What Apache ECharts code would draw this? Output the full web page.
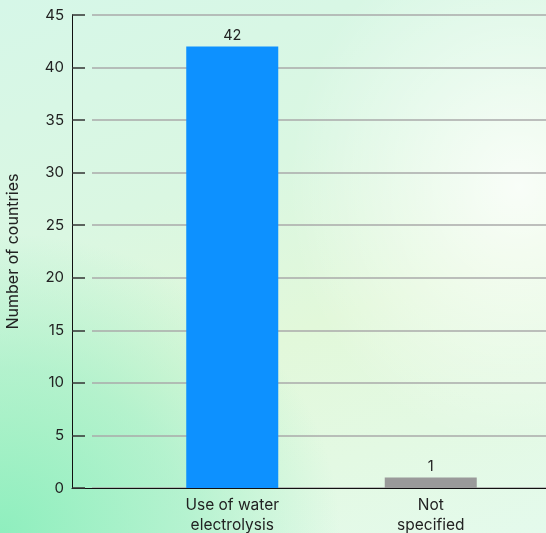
<!DOCTYPE html>
<html><head><meta charset="utf-8">
<script src="https://cdn.jsdelivr.net/npm/echarts@6/dist/echarts.min.js"></script>
<style>
html,body{margin:0;padding:0;width:546px;height:533px;overflow:hidden;}
body{background:
 radial-gradient(ellipse 340px 300px at 0% 100%, rgba(138,238,188,0.95), rgba(150,238,195,0.6) 55%, rgba(150,238,195,0) 100%),
 radial-gradient(ellipse 230px 260px at 95% 35%, rgba(255,255,255,0.8), rgba(255,255,255,0) 100%),
 linear-gradient(160deg, #d6f7e8 0%, #daf7e2 35%, #e2f8da 60%, #e4faec 100%);}
#c{width:546px;height:533px;}
</style></head><body>
<div id="c"></div>
<script>
var categories = ['Use of water\nelectrolysis', 'Not\nspecified'];
var values = [42, 1];
var barColors = ['#0d91ff', '#9a9a9a'];
var yTicks = {min: 0, max: 45, interval: 5};

var font = 'Inter, "Open Sans", sans-serif';
var chart = echarts.init(document.getElementById('c'), null, {renderer: 'canvas'});
var gridBase = {top: 15, bottom: 45, containLabel: false, outerBoundsMode: 'none'};
chart.setOption({
  backgroundColor: 'transparent',
  grid: [
    Object.assign({left: 72, right: 0}, gridBase),
    Object.assign({left: 92, right: 0}, gridBase),
    Object.assign({left: 133, right: 16}, gridBase)
  ],
  xAxis: [
    {gridIndex: 0, type: 'category', data: categories, axisLine: {lineStyle: {color: '#111', width: 1}},
     axisTick: {show: false}, axisLabel: {show: false}},
    {gridIndex: 1, type: 'category', data: categories, show: false},
    {gridIndex: 2, type: 'category', data: categories,
     axisLine: {show: false}, axisTick: {show: false},
     axisLabel: {color: '#222', fontFamily: font, fontSize: 15.5, lineHeight: 20, margin: 7}}
  ],
  yAxis: [
    {gridIndex: 0, type: 'value', min: yTicks.min, max: yTicks.max, interval: yTicks.interval,
     name: 'Number of countries', nameLocation: 'middle', nameGap: 51,
     nameTextStyle: {color: '#222', fontFamily: font, fontSize: 16},
     axisLine: {show: true, lineStyle: {color: '#111', width: 1}},
     axisTick: {show: true, inside: true, length: 13, lineStyle: {color: '#333', width: 1.5}},
     axisLabel: {color: '#222', fontFamily: font, fontSize: 15, margin: 8},
     splitLine: {show: false}},
    {gridIndex: 1, type: 'value', min: yTicks.min, max: yTicks.max, interval: yTicks.interval,
     axisLine: {show: false}, axisTick: {show: false}, axisLabel: {show: false},
     splitLine: {show: true, lineStyle: {color: '#aaaaaa', width: 1.5}}},
    {gridIndex: 2, type: 'value', min: yTicks.min, max: yTicks.max, interval: yTicks.interval, show: false,
     splitLine: {show: false}}
  ],
  series: [{
    type: 'bar', xAxisIndex: 2, yAxisIndex: 2, barWidth: 92,
    data: values.map(function (v, i) { return {value: v, itemStyle: {color: barColors[i]}}; }),
    label: {show: true, position: 'top', color: '#222', fontFamily: font, fontSize: 14.5, distance: 3},
    z: 5
  }]
});
</script>
</body></html>
